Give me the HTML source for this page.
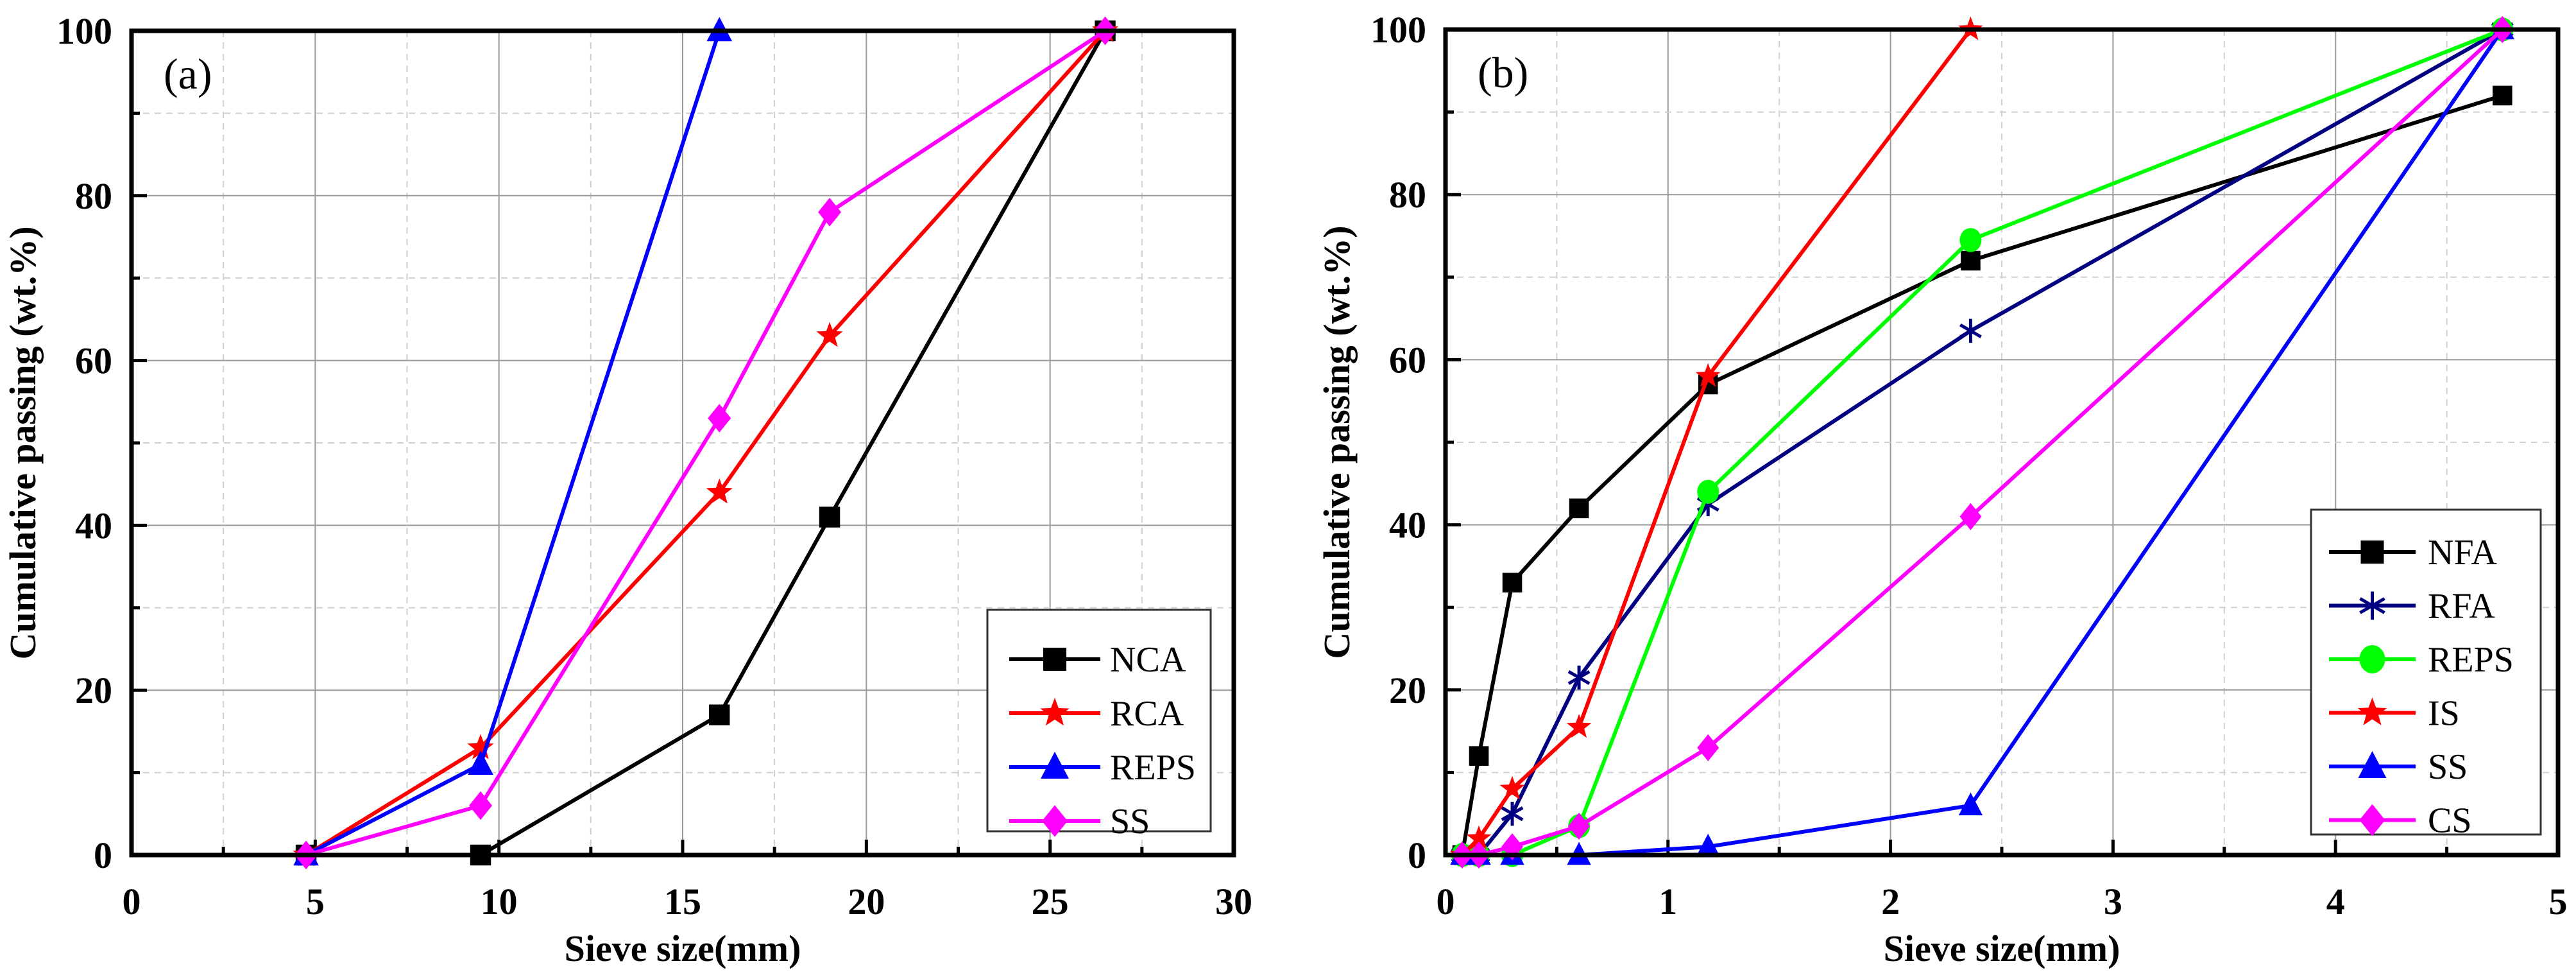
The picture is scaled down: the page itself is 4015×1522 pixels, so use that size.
<!DOCTYPE html>
<html><head><meta charset="utf-8"><style>
html,body{margin:0;padding:0;background:#fff;}
svg{display:block;font-family:"Liberation Serif","Times New Roman",serif;}
</style></head><body>
<svg id="fig" width="4015" height="1522" viewBox="0 0 4015 1522" xmlns="http://www.w3.org/2000/svg"></svg>
<script>
// ---- Panel (a) data ----
const aNames = ["NCA","RCA","REPS","SS"];
const aNCAx = [4.75,9.5,16,19,26.5];
const aNCAy = [0,0,17,41,100];
const aRCAx = [4.75,9.5,16,19,26.5];
const aRCAy = [0,13,44,63,100];
const aREPSx = [4.75,9.5,16];
const aREPSy = [0,11,100];
const aSSx = [4.75,9.5,16,19,26.5];
const aSSy = [0,6,53,78,100];
const aXTicks = [0,5,10,15,20,25,30];
const aYTicks = [0,20,40,60,80,100];
// ---- Panel (b) data ----
const bNames = ["NFA","RFA","REPS","IS","SS","CS"];
const bNFAx = [0.075,0.15,0.3,0.6,1.18,2.36,4.75];
const bNFAy = [0,12,33,42,57,72,92];
const bRFAx = [0.075,0.15,0.3,0.6,1.18,2.36,4.75];
const bRFAy = [0,0,5,21.5,42.5,63.5,100];
const bREPSx = [0.075,0.15,0.3,0.6,1.18,2.36,4.75];
const bREPSy = [0,0,0,3.5,44,74.5,100];
const bISx = [0.075,0.15,0.3,0.6,1.18,2.36];
const bISy = [0,2,8,15.5,58,100];
const bSSx = [0.075,0.15,0.3,0.6,1.18,2.36,4.75];
const bSSy = [0,0,0,0,1,6,100];
const bCSx = [0.075,0.15,0.3,0.6,1.18,2.36,4.75];
const bCSy = [0,0,1,3.5,13,41,100];
const bXTicks = [0,1,2,3,4,5];
const bYTicks = [0,20,40,60,80,100];

const NS="http://www.w3.org/2000/svg";
const svg=document.getElementById('fig');
function mk(tag,attrs,parent){const e=document.createElementNS(NS,tag);for(const k in attrs)e.setAttribute(k,attrs[k]);(parent||svg).appendChild(e);return e;}

function marker(g,type,cx,cy,color,s){
  let e;
  if(type==='square'){e=mk('rect',{x:cx-s*0.45,y:cy-s*0.45,width:s*0.9,height:s*0.9,fill:color},g);}
  else if(type==='circle'){e=mk('ellipse',{cx:cx,cy:cy,rx:s*0.5,ry:s*0.55,fill:color},g);}
  else if(type==='triangle'){e=mk('polygon',{points:`${cx},${cy-s*0.6} ${cx+s*0.55},${cy+s*0.45} ${cx-s*0.55},${cy+s*0.45}`,fill:color},g);}
  else if(type==='diamond'){e=mk('polygon',{points:`${cx},${cy-s*0.62} ${cx+s*0.5},${cy} ${cx},${cy+s*0.62} ${cx-s*0.5},${cy}`,fill:color},g);}
  else if(type==='star'){let p=[];for(let i=0;i<10;i++){const r=i%2?s*0.25:s*0.6;const a=-Math.PI/2+i*Math.PI/5;p.push((cx+r*Math.cos(a)).toFixed(1)+','+(cy+r*Math.sin(a)).toFixed(1));}e=mk('polygon',{points:p.join(' '),fill:color},g);}
  else if(type==='asterisk'){e=mk('g',{stroke:color,'stroke-width':5},g);const r=s*0.55;for(let i=0;i<3;i++){const a=Math.PI/2+i*Math.PI/3;mk('line',{x1:cx-r*Math.cos(a),y1:cy-r*Math.sin(a),x2:cx+r*Math.cos(a),y2:cy+r*Math.sin(a)},e);}}
  return e;
}

function panel(cfg){
  const g=mk('g',{});
  
  
  const {L,R,T,B,xmin,xmax,ymin,ymax}=cfg;
  const sx=v=>L+(v-xmin)/(xmax-xmin)*(R-L);
  const sy=v=>B-(v-ymin)/(ymax-ymin)*(B-T);
  const grid=mk('g',{},g);
  
  
  for(let i=0;i<cfg.xTicks.length;i++){
    const v=cfg.xTicks[i];
    if(v>xmin&&v<xmax) mk('line',{x1:sx(v),x2:sx(v),y1:T,y2:B,stroke:'#9a9a9a','stroke-width':2},grid);
    if(i<cfg.xTicks.length-1){const m=(v+cfg.xTicks[i+1])/2;mk('line',{x1:sx(m),x2:sx(m),y1:T,y2:B,stroke:'#d0d0d0','stroke-width':2,'stroke-dasharray':'10 8'},grid);}
  }
  for(let i=0;i<cfg.yTicks.length;i++){
    const v=cfg.yTicks[i];
    if(v>ymin&&v<ymax) mk('line',{x1:L,x2:R,y1:sy(v),y2:sy(v),stroke:'#9a9a9a','stroke-width':2},grid);
    if(i<cfg.yTicks.length-1){const m=(v+cfg.yTicks[i+1])/2;mk('line',{x1:L,x2:R,y1:sy(m),y2:sy(m),stroke:'#d0d0d0','stroke-width':2,'stroke-dasharray':'10 8'},grid);}
  }
  for(let i=0;i<cfg.xTicks.length;i++){
    const v=cfg.xTicks[i];
    mk('line',{x1:sx(v),x2:sx(v),y1:B,y2:B-24,stroke:'#000','stroke-width':5},g);
    if(i<cfg.xTicks.length-1){const m=(v+cfg.xTicks[i+1])/2;mk('line',{x1:sx(m),x2:sx(m),y1:B,y2:B-13,stroke:'#000','stroke-width':5},g);}
    const t=mk('text',{x:sx(v),y:B+92,'text-anchor':'middle','font-size':58,'font-weight':'bold'},g);
    
    
    t.textContent=v;
  }
  for(let i=0;i<cfg.yTicks.length;i++){
    const v=cfg.yTicks[i];
    mk('line',{x1:L,x2:L+24,y1:sy(v),y2:sy(v),stroke:'#000','stroke-width':5},g);
    if(i<cfg.yTicks.length-1){const m=(v+cfg.yTicks[i+1])/2;mk('line',{x1:L,x2:L+13,y1:sy(m),y2:sy(m),stroke:'#000','stroke-width':5},g);}
    const t=mk('text',{x:L-30,y:sy(v)+20,'text-anchor':'end','font-size':58,'font-weight':'bold'},g);
    
    
    t.textContent=v;
  }
  cfg.series.forEach(s=>{
    const sg=mk('g',{},g);
    
    
    const pts=s.x.map((xv,i)=>sx(xv).toFixed(1)+','+sy(s.y[i]).toFixed(1)).join(' ');
    mk('polyline',{points:pts,fill:'none',stroke:s.color,'stroke-width':6,'stroke-linejoin':'round'},sg);
    s.x.forEach((xv,i)=>{const m=marker(sg,s.marker,sx(xv),sy(s.y[i]),s.color,cfg.ms);
      
      });
  });
  const fr=mk('rect',{x:L,y:T,width:R-L,height:B-T,fill:'none',stroke:'#000','stroke-width':7},g);
  
  
  const pl=mk('text',{x:L+50,y:T+90,'font-size':68},g);
  
  
  pl.textContent=cfg.tag;
  const xt=mk('text',{x:(L+R)/2,y:B+165,'text-anchor':'middle','font-size':58,'font-weight':'bold'},g);
  
  
  xt.textContent='Sieve size(mm)';
  const yx=L-150, yy=(T+B)/2;
  const yt=mk('text',{x:yx,y:yy,'text-anchor':'middle','font-size':58,'font-weight':'bold',transform:`rotate(-90 ${yx} ${yy})`},g);
  
  
  yt.textContent='Cumulative passing (wt.%)';
  const lg=mk('g',{},g);
  
  
  const lb=cfg.legend;
  mk('rect',{x:lb.x,y:lb.y,width:lb.w,height:lb.h,fill:'#fff',stroke:'#333','stroke-width':3},lg);
  cfg.series.forEach((s,i)=>{
    const e=mk('g',{},lg);
    
    
    const cy=lb.y0+i*lb.dy;
    mk('line',{x1:lb.lx1,x2:lb.lx2,y1:cy,y2:cy,stroke:s.color,'stroke-width':6},e);
    marker(e,s.marker,(lb.lx1+lb.lx2)/2,cy,s.color,lb.ms);
    const t=mk('text',{x:lb.tx,y:cy+lb.fs*0.34,'font-size':lb.fs},e);
    t.textContent=s.label;
  });
}

panel({name:'chart-a',tag:'(a)',L:205,R:1923,T:48,B:1332,xmin:0,xmax:30,ymin:0,ymax:100,
  xTicks:aXTicks,yTicks:aYTicks,ms:36,
  series:[
    {label:aNames[0],x:aNCAx,y:aNCAy,color:'#000000',marker:'square'},
    {label:aNames[1],x:aRCAx,y:aRCAy,color:'#ff0000',marker:'star'},
    {label:aNames[2],x:aREPSx,y:aREPSy,color:'#0000ff',marker:'triangle'},
    {label:aNames[3],x:aSSx,y:aSSy,color:'#ff00ff',marker:'diamond'}],
  legend:{x:1539,y:950,w:348,h:345,y0:1027,dy:84,lx1:1573,lx2:1715,tx:1730,fs:56,ms:40}
});
panel({name:'chart-b',tag:'(b)',L:2253,R:3987,T:46,B:1332,xmin:0,xmax:5,ymin:0,ymax:100,
  xTicks:bXTicks,yTicks:bYTicks,ms:34,
  series:[
    {label:bNames[0],x:bNFAx,y:bNFAy,color:'#000000',marker:'square'},
    {label:bNames[1],x:bRFAx,y:bRFAy,color:'#000080',marker:'asterisk'},
    {label:bNames[2],x:bREPSx,y:bREPSy,color:'#00ff00',marker:'circle'},
    {label:bNames[3],x:bISx,y:bISy,color:'#ff0000',marker:'star'},
    {label:bNames[4],x:bSSx,y:bSSy,color:'#0000ff',marker:'triangle'},
    {label:bNames[5],x:bCSx,y:bCSy,color:'#ff00ff',marker:'diamond'}],
  legend:{x:3602,y:794,w:358,h:506,y0:860,dy:83.5,lx1:3630,lx2:3765,tx:3784,fs:56,ms:40}
});
</script>
</body></html>
